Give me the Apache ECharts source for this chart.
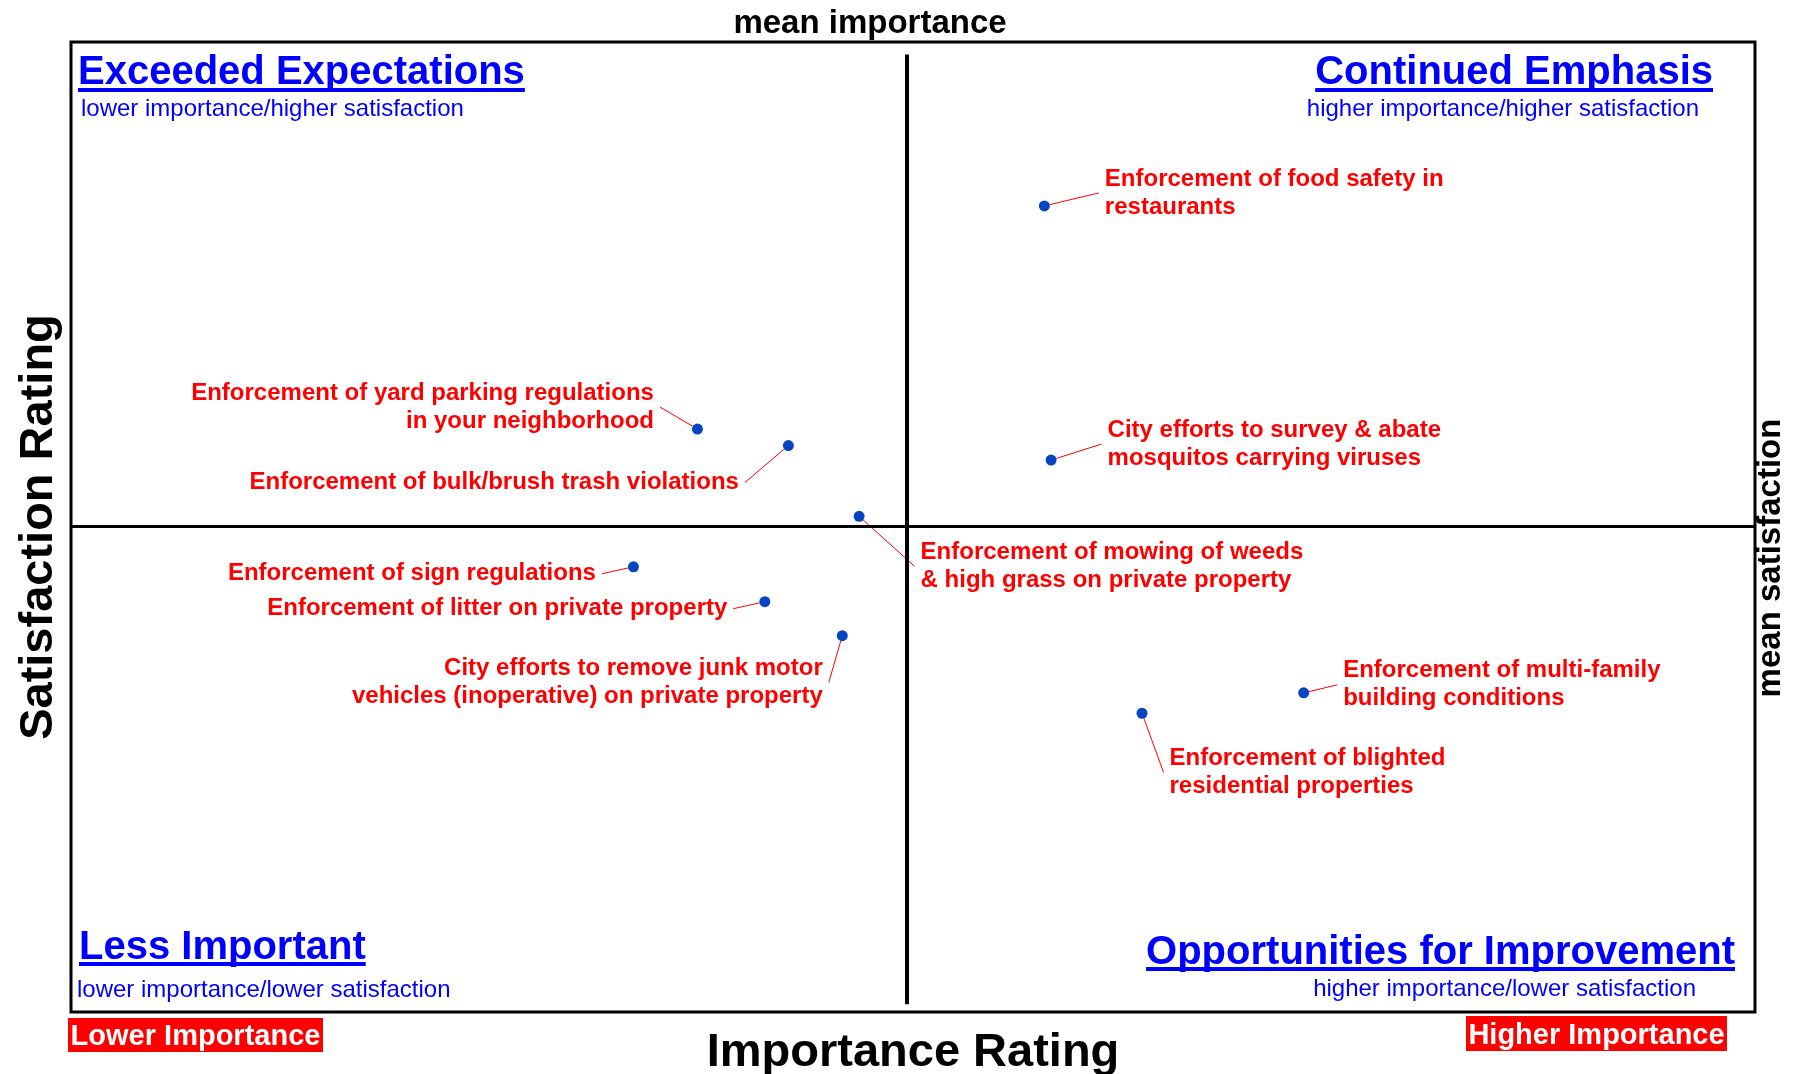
<!DOCTYPE html>
<html>
<head>
<meta charset="utf-8">
<title>Importance-Satisfaction Matrix</title>
<script src="https://cdn.jsdelivr.net/npm/echarts@6/dist/echarts.min.js"></script>
<style>
  html, body { margin: 0; padding: 0; background: #fff; }
  #chart { width: 1797px; height: 1074px; }
</style>
</head>
<body>
<div id="chart"></div>
<script>
  // services shown on the matrix
  const services = [
    'Enforcement of food safety in\nrestaurants',
    'City efforts to survey & abate\nmosquitos carrying viruses',
    'Enforcement of yard parking regulations\nin your neighborhood',
    'Enforcement of bulk/brush trash violations',
    'Enforcement of mowing of weeds\n& high grass on private property',
    'Enforcement of sign regulations',
    'Enforcement of litter on private property',
    'City efforts to remove junk motor\nvehicles (inoperative) on private property',
    'Enforcement of multi-family\nbuilding conditions',
    'Enforcement of blighted\nresidential properties'
  ];
  // importance rating (x) and satisfaction rating (y)
  const importance = [28.9, 29.1, 18.6, 21.3, 23.4, 16.7, 20.6, 22.9, 36.6, 31.8];
  const satisfaction = [83.1, 56.9, 60.1, 58.4, 51.1, 45.9, 42.3, 38.8, 32.9, 30.8];
  const meanImportance = 24.8;
  const meanSatisfaction = 50.1;

  // where each label sits next to its dot
  const labelSide = ['right', 'right', 'left', 'left', 'right', 'left', 'left', 'left', 'right', 'right'];
  const labelShift = [[44, -13], [40, -16], [-27, -22], [-33, 37], [45, 50], [-21, 7], [-21, 7], [-3, 47], [23, -8], [11, 59]];

  const FONT = '"Liberation Sans", Arial, sans-serif';
  const BLUE = '#0000ff';

  const ctx = document.createElement('canvas').getContext('2d');
  function textWidth(text, size) {
    ctx.font = 'bold ' + size + 'px ' + FONT;
    return ctx.measureText(text).width;
  }

  // quadrant heading: bold underlined title plus small subtitle
  function quadrant(title, sub, x, y, lineY, subX, subY, align) {
    const w = textWidth(title, 40);
    const left = align === 'left' ? x : x - w;
    return [
      {
        type: 'text', x: x, y: y,
        style: { text: title, fill: BLUE, fontSize: 40, fontWeight: 'bold', fontFamily: FONT, align: align, verticalAlign: 'middle' }
      },
      { type: 'rect', shape: { x: left, y: lineY, width: w, height: 4 }, style: { fill: BLUE } },
      {
        type: 'text', x: subX, y: subY,
        style: { text: sub, fill: BLUE, fontSize: 24, fontFamily: FONT, align: align, verticalAlign: 'middle' }
      }
    ];
  }

  function redBox(text, x, y, w, h) {
    return [
      { type: 'rect', shape: { x: x, y: y, width: w, height: h }, style: { fill: '#ff0000' } },
      {
        type: 'text', x: x + w / 2, y: y + h / 2 + 2,
        style: { text: text, fill: '#fff', fontSize: 29, fontWeight: 'bold', fontFamily: FONT, align: 'center', verticalAlign: 'middle' }
      }
    ];
  }

  const chart = echarts.init(document.getElementById('chart'));

  chart.setOption({
    animation: false,
    backgroundColor: '#fff',
    grid: {
      left: 71, right: 42, top: 42, bottom: 62,
      outerBoundsMode: 'none',
      containLabel: false,
      show: true, borderColor: '#000', borderWidth: 3
    },
    xAxis: {
      type: 'value', min: 0, max: 50,
      name: 'Importance Rating', nameLocation: 'middle', nameGap: 18,
      nameTextStyle: { fontSize: 47, fontWeight: 'bold', color: '#000', fontFamily: FONT },
      axisLine: { show: false }, axisTick: { show: false }, axisLabel: { show: false }, splitLine: { show: false }
    },
    yAxis: {
      type: 'value', min: 0, max: 100,
      name: 'Satisfaction Rating', nameLocation: 'middle', nameGap: 8, nameRotate: 90,
      nameTextStyle: { fontSize: 47, fontWeight: 'bold', color: '#000', fontFamily: FONT },
      axisLine: { show: false }, axisTick: { show: false }, axisLabel: { show: false }, splitLine: { show: false }
    },
    graphic: [].concat(
      [
        {
          type: 'text', x: 870, y: 24,
          style: { text: 'mean importance', fill: '#000', fontSize: 33, fontWeight: 'bold', fontFamily: FONT, align: 'center', verticalAlign: 'middle' }
        },
        {
          type: 'text', x: 1771, y: 558, rotation: Math.PI / 2,
          style: { text: 'mean satisfaction', fill: '#000', fontSize: 33, fontWeight: 'bold', fontFamily: FONT, align: 'center', verticalAlign: 'middle' }
        }
      ],
      quadrant('Exceeded Expectations', 'lower importance/higher satisfaction', 78, 73, 88, 81, 109, 'left'),
      quadrant('Continued Emphasis', 'higher importance/higher satisfaction', 1713, 73, 88, 1699, 109, 'right'),
      quadrant('Less Important', 'lower importance/lower satisfaction', 79, 948, 962, 77, 990, 'left'),
      quadrant('Opportunities for Improvement', 'higher importance/lower satisfaction', 1735, 953, 967, 1696, 989, 'right'),
      redBox('Lower Importance', 68, 1018, 255, 34),
      redBox('Higher Importance', 1466, 1016, 261, 35)
    ),
    series: [
      {
        type: 'scatter',
        symbolSize: 11,
        itemStyle: { color: '#0645c2', opacity: 1 },
        data: services.map((name, i) => ({
          name: name,
          value: [importance[i], satisfaction[i]],
          label: { position: labelSide[i] }
        })),
        label: {
          show: true,
          formatter: '{b}',
          color: '#ff0000',
          fontSize: 24,
          fontWeight: 'bold',
          fontFamily: FONT,
          lineHeight: 28,
          padding: [0, 6]
        },
        labelLine: { show: true, lineStyle: { color: '#ff0000', width: 1, opacity: 1 } },
        labelLayout: function (p) {
          const s = labelShift[p.dataIndex];
          return { dx: s[0], dy: s[1] };
        },
        markLine: {
          silent: true,
          symbol: 'none',
          label: { show: false },
          lineStyle: { color: '#000', type: 'solid', opacity: 1 },
          data: [
            [{ coord: [meanImportance, 0.8], lineStyle: { width: 4 } }, { coord: [meanImportance, 98.7] }],
            [{ coord: [0, meanSatisfaction], lineStyle: { width: 3 } }, { coord: [50, meanSatisfaction] }]
          ]
        }
      }
    ]
  });
</script>
</body>
</html>
